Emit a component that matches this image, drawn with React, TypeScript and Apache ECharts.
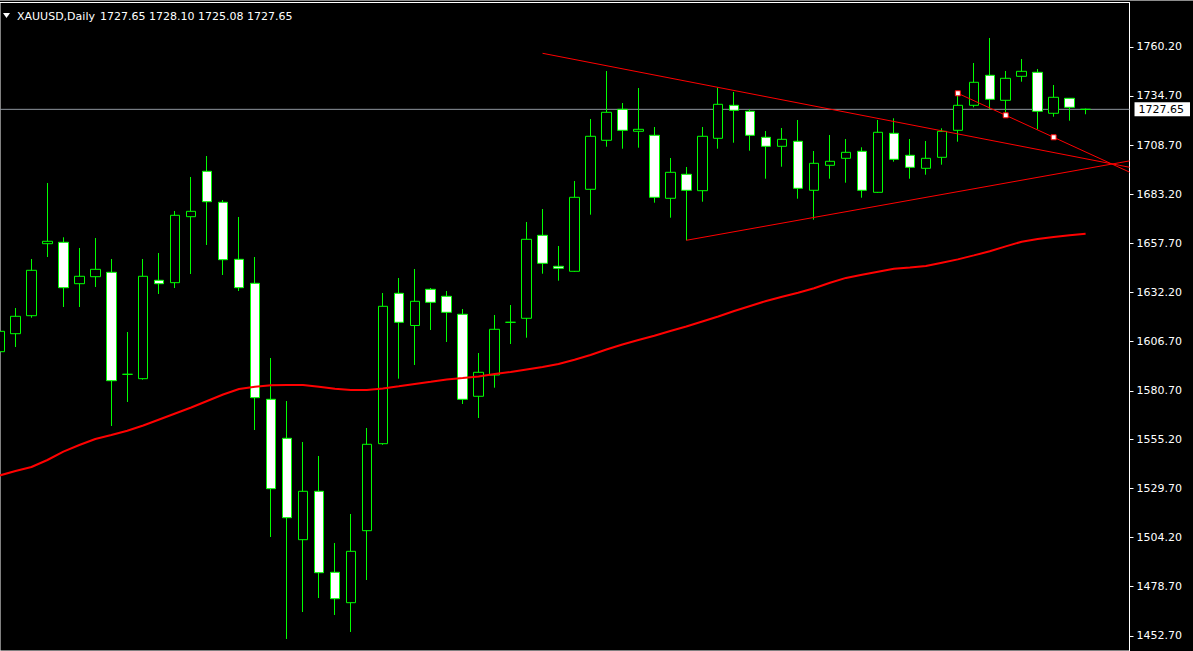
import React, { useEffect, useRef } from 'react';
import * as echarts from 'echarts';

const symbolName = 'XAUUSD,Daily';
const quote = ['1727.65', '1728.10', '1725.08', '1727.65'];

const opens = [
  1601.12, 1610.52, 1619.92, 1657.51, 1658.24, 1636.62, 1640.28, 1642.57, 1589.32, 1587.03,
  1638.40, 1637.15, 1671.60, 1695.31, 1679.12, 1649.36, 1636.83, 1576.27, 1555.91, 1502.97,
  1528.24, 1485.95, 1470.08, 1507.67, 1553.09, 1631.61, 1614.80, 1633.70, 1630.05, 1620.65,
  1577.84, 1588.96, 1616.47, 1618.56, 1661.89, 1645.71, 1643.10, 1685.91, 1711.49, 1727.67,
  1716.19, 1714.10, 1681.21, 1693.74, 1685.18, 1712.53, 1729.76, 1726.63, 1713.06, 1708.36,
  1710.97, 1685.39, 1698.44, 1702.09, 1705.75, 1684.34, 1715.14, 1703.66, 1696.87, 1702.61,
  1716.71, 1729.76, 1745.43, 1732.37, 1744.90, 1746.99, 1725.59, 1733.42, 1727.65,
];
const closes = [
  1611.77, 1619.60, 1643.62, 1658.76, 1634.54, 1640.49, 1644.14, 1585.98, 1589.32, 1640.49,
  1636.62, 1672.33, 1674.42, 1679.43, 1649.15, 1634.54, 1577.11, 1529.60, 1514.46, 1528.24,
  1485.74, 1472.17, 1496.91, 1552.78, 1624.82, 1616.47, 1627.43, 1626.91, 1621.69, 1576.27,
  1590.37, 1612.82, 1616.47, 1659.80, 1647.27, 1644.66, 1681.73, 1713.58, 1726.11, 1716.71,
  1717.23, 1681.73, 1694.78, 1685.39, 1713.58, 1730.28, 1727.15, 1714.10, 1708.36, 1712.01,
  1686.43, 1699.48, 1700.53, 1705.22, 1685.39, 1715.67, 1701.57, 1697.39, 1702.09, 1716.19,
  1729.76, 1741.77, 1732.89, 1743.86, 1747.51, 1726.63, 1733.94, 1728.72, 1727.65,
];
const highs = [
  1616.63, 1623.94, 1649.52, 1689.20, 1660.85, 1655.26, 1660.48, 1649.52, 1611.41, 1649.52,
  1652.65, 1674.58, 1692.33, 1703.29, 1680.32, 1671.45, 1650.56, 1597.83, 1575.38, 1553.98,
  1546.67, 1501.25, 1516.39, 1561.29, 1631.77, 1639.60, 1644.30, 1634.38, 1632.81, 1623.42,
  1600.44, 1620.28, 1625.50, 1668.84, 1675.62, 1656.31, 1690.24, 1722.61, 1747.67, 1730.96,
  1738.79, 1718.43, 1702.25, 1697.55, 1718.43, 1739.06, 1736.71, 1727.67, 1716.35, 1717.91,
  1722.09, 1705.90, 1714.26, 1712.17, 1707.84, 1722.09, 1722.98, 1712.17, 1711.12, 1717.75,
  1736.18, 1751.85, 1764.90, 1747.67, 1753.94, 1748.71, 1740.36, 1733.60, 1728.10,
];
const lows = [
  1597.83, 1603.58, 1618.87, 1650.56, 1624.46, 1624.46, 1634.90, 1562.33, 1574.86, 1586.50,
  1631.25, 1634.38, 1641.69, 1656.83, 1641.17, 1632.81, 1560.24, 1504.38, 1451.13, 1465.22,
  1472.53, 1463.66, 1454.78, 1481.93, 1552.50, 1587.03, 1594.18, 1612.45, 1606.19, 1573.82,
  1566.51, 1582.33, 1605.14, 1608.43, 1641.84, 1638.19, 1642.80, 1672.65, 1708.15, 1707.10,
  1707.63, 1678.91, 1671.08, 1659.28, 1679.43, 1707.10, 1710.24, 1706.06, 1691.44, 1697.71,
  1681.00, 1670.04, 1691.44, 1689.35, 1681.52, 1684.00, 1700.32, 1691.44, 1693.53, 1698.75,
  1710.76, 1728.72, 1727.67, 1724.54, 1742.08, 1717.23, 1723.81, 1721.72, 1725.08,
];
const movingAverage = [
  1536.49, 1538.84, 1540.93, 1544.58, 1548.97, 1552.41, 1555.54, 1557.63, 1559.88, 1562.59,
  1565.73, 1568.86, 1571.99, 1575.38, 1578.78, 1581.65, 1582.85, 1583.58, 1583.74, 1583.74,
  1582.85, 1581.81, 1581.13, 1581.13, 1581.91, 1583.06, 1584.26, 1585.41, 1586.61, 1587.39,
  1588.23, 1589.48, 1590.52, 1591.83, 1593.13, 1594.70, 1596.95, 1599.40, 1602.27, 1604.88,
  1607.23, 1609.42, 1611.93, 1614.28, 1616.89, 1619.50, 1622.37, 1624.98, 1627.59, 1629.84,
  1631.92, 1634.27, 1637.09, 1639.65, 1641.32, 1642.89, 1644.40, 1645.08, 1645.86, 1647.59,
  1649.31, 1651.40, 1653.54, 1656.10, 1658.55, 1659.91, 1661.06, 1661.94, 1662.73,
];
const priceTicks = [
  1452.7, 1478.7, 1504.2, 1529.7, 1555.2, 1580.7, 1606.7, 1632.2, 1657.7, 1683.2, 1708.7, 1734.7, 1760.2,
];
const bidPrice = 1727.65;

// view range (bar index units / price units)
const xMin = 0.03125;
const xMax = 70.75;
const yMin = 1444.86;
const yMax = 1783.43;

// trend lines: [bar index, price]
const upperLine = [[34, 1756.91], [70.75, 1697.41]];
const lowerLine = [[43, 1659.28], [70.75, 1700.73]];
const selectedLine = [[60, 1736.03], [63, 1724.54], [66, 1713.06], [70.75, 1694.88]];
const selectedAnchors = [[60, 1736.03], [63, 1724.54], [66, 1713.06]];

const FONT = '"DejaVu Sans", Verdana, sans-serif';

export default function App() {
  const ref = useRef<HTMLDivElement>(null);
  useEffect(() => {
    if (!ref.current) return;
    const chart = echarts.init(ref.current, undefined, { renderer: 'svg' });
    const candles = opens.map((o, i) => [i, o, closes[i], lows[i], highs[i]]);
    const maData = movingAverage.map((v, i) => [i, v]);
    chart.setOption({
      animation: false,
      backgroundColor: '#000000',
      grid: {
        left: 0,
        right: 61.5,
        top: 2.5,
        bottom: 0,
        show: true,
        borderColor: '#ffffff',
        borderWidth: 1,
        backgroundColor: '#000000',
      },
      xAxis: {
        type: 'value',
        min: xMin,
        max: xMax,
        show: false,
      },
      yAxis: [
        {
          type: 'value',
          position: 'right',
          min: yMin,
          max: yMax,
          splitLine: { show: false },
          axisLine: { show: true, lineStyle: { color: '#ffffff', width: 1 } },
          axisTick: {
            show: true,
            length: 4,
            customValues: priceTicks,
            lineStyle: { color: '#ffffff' },
          },
          axisLabel: {
            customValues: priceTicks,
            formatter: (v: number) => v.toFixed(2),
            color: '#ffffff',
            fontFamily: FONT,
            fontSize: 11,
            margin: 7,
          },
        },
        {
          type: 'value',
          position: 'right',
          min: yMin,
          max: yMax,
          splitLine: { show: false },
          axisLine: { show: false },
          axisTick: { show: false },
          axisLabel: {
            customValues: [bidPrice],
            formatter: (v: number) => v.toFixed(2),
            color: '#000000',
            backgroundColor: '#ffffff',
            padding: [2, 6, 1, 4],
            fontFamily: FONT,
            fontSize: 11,
            margin: 5,
          },
        },
      ],
      series: [
        {
          type: 'line',
          name: 'bid',
          data: [[xMin, bidPrice], [xMax, bidPrice]],
          symbol: 'none',
          lineStyle: { color: '#8f969e', width: 1 },
          z: 1,
          silent: true,
        },
        {
          type: 'candlestick',
          name: symbolName,
          data: candles,
          encode: { x: 0, y: [1, 2, 3, 4] },
          barWidth: 10,
          itemStyle: {
            color: '#000000',
            color0: '#ffffff',
            borderColor: '#00ff00',
            borderColor0: '#00ff00',
            borderColorDoji: '#00ff00',
            borderWidth: 1,
          },
          z: 2,
          silent: true,
        },
        {
          type: 'line',
          name: 'MA',
          data: maData,
          symbol: 'none',
          lineStyle: { color: '#ff0000', width: 2 },
          z: 3,
          silent: true,
        },
        {
          type: 'line',
          name: 'upper',
          data: upperLine,
          symbol: 'none',
          lineStyle: { color: '#ff0000', width: 1 },
          z: 4,
          silent: true,
        },
        {
          type: 'line',
          name: 'lower',
          data: lowerLine,
          symbol: 'none',
          lineStyle: { color: '#ff0000', width: 1 },
          z: 4,
          silent: true,
        },
        {
          type: 'line',
          name: 'selected',
          data: selectedLine,
          symbol: 'none',
          lineStyle: { color: '#ff0000', width: 1 },
          z: 4,
          silent: true,
        },
        {
          type: 'scatter',
          name: 'anchors',
          data: selectedAnchors,
          symbol: 'rect',
          symbolSize: 5,
          itemStyle: { color: '#ffffff', borderColor: '#ff0000', borderWidth: 1, opacity: 1 },
          z: 5,
          silent: true,
        },
      ],
      graphic: [
        { type: 'rect', shape: { x: 0, y: 0, width: 1193, height: 1 }, style: { fill: '#8c8c8c' }, silent: true },
        { type: 'polygon', shape: { points: [[3, 13], [10, 13], [6.5, 18]] }, style: { fill: '#ffffff' }, silent: true },
        {
          type: 'text',
          x: 17,
          y: 16.5,
          style: { text: symbolName, fill: '#ffffff', font: `11px ${FONT}`, verticalAlign: 'middle' },
          silent: true,
        },
        {
          type: 'text',
          x: 100,
          y: 16.5,
          style: { text: quote.join(' '), fill: '#ffffff', font: `11px ${FONT}`, verticalAlign: 'middle' },
          silent: true,
        },
      ],
    });
    return () => chart.dispose();
  }, []);
  return (
    <div
      ref={ref}
      style={{ position: 'fixed', left: 0, top: 0, width: 1193, height: 651, background: '#000000' }}
    />
  );
}
